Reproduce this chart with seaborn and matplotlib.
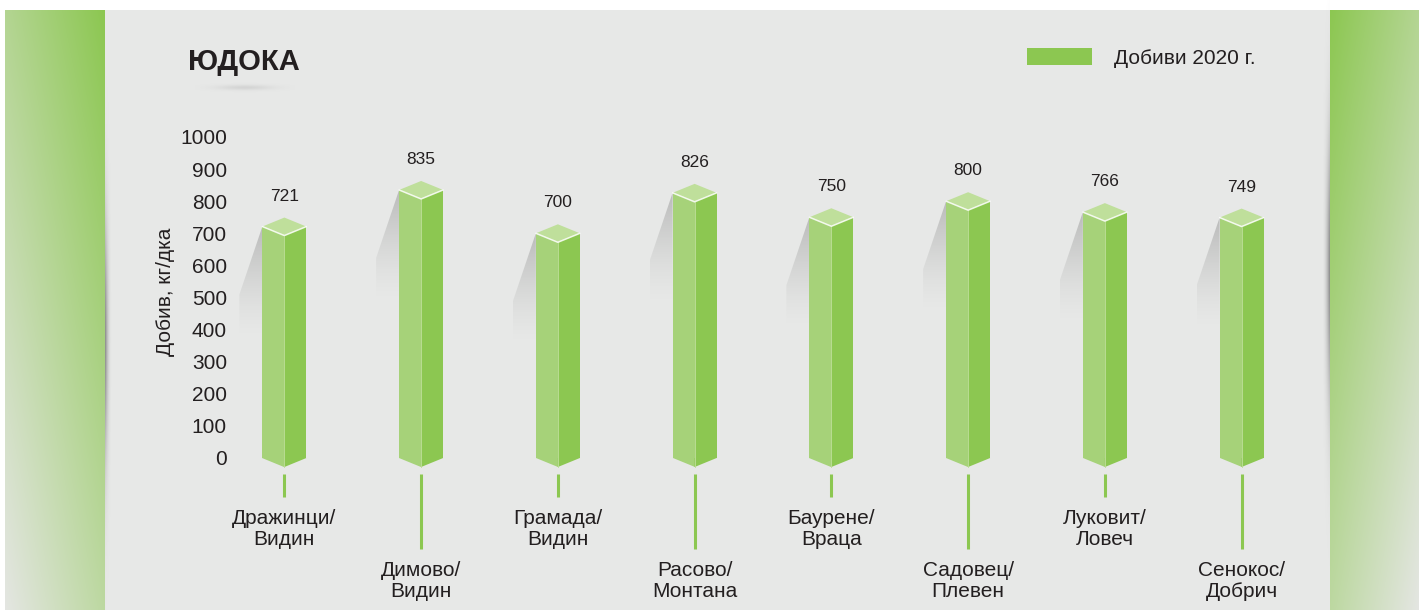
import numpy as np
import pandas as pd
import matplotlib
matplotlib.use("Agg")
import matplotlib.pyplot as plt
import seaborn as sns
from matplotlib.patches import Polygon, Rectangle
from matplotlib.colors import to_rgb

# ---- data ----
places = ["Дражинци/\nВидин", "Димово/\nВидин", "Грамада/\nВидин", "Расово/\nМонтана",
          "Баурене/\nВраца", "Садовец/\nПлевен", "Луковит/\nЛовеч", "Сенокос/\nДобрич"]
yields = [721, 835, 700, 826, 750, 800, 766, 749]
y_ticks = [0, 100, 200, 300, 400, 500, 600, 700, 800, 900, 1000]
series_name = "Добиви 2020 г."
chart_title = "ЮДОКА"
y_title = "Добив, кг/дка"

# colours
green_dark = "#8cc751"
green_light = "#a6d279"
green_top = "#bfdf9b"
bg_gray = "#e7e8e7"
text_col = "#231f20"

W, H = 1419, 610
sns.set_style("white")
plt.rcParams["font.family"] = ["Liberation Sans", "DejaVu Sans"]

fig = plt.figure(figsize=(W / 100, H / 100), dpi=100)
fig.patch.set_facecolor("white")

# background layer in pixel coordinates
bg = fig.add_axes([0, 0, 1, 1], zorder=0)
bg.set_xlim(0, W)
bg.set_ylim(H, 0)
bg.axis("off")
bg.add_patch(Rectangle((105, 10), 1225, 600, color=bg_gray, lw=0))

g = np.array(to_rgb(green_dark))
fade = np.array([228, 230, 226]) / 255


def side_panel(x0, x1, inner_on_right):
    xs, ys = np.meshgrid(np.linspace(0, 1, 120), np.linspace(0, 1, 300))
    xr = xs if inner_on_right else 1 - xs
    m = np.clip(0.55 + 0.45 * xr - 0.55 * ys, 0, 1)[..., None]
    img = fade * (1 - m) + g * m
    bg.imshow(img, extent=(x0, x1, H, 10), origin="upper", aspect="auto",
              interpolation="bilinear", zorder=1)


def edge_shadow(x0, x1, dark_at_left, y_peak, sigma):
    xs, ys = np.meshgrid(np.linspace(0, 1, 20), np.linspace(0, H, 300))
    bx = (1 - xs) if dark_at_left else xs
    a = 0.8 * np.exp(-((ys - y_peak) / sigma) ** 2) * bx ** 2
    img = np.zeros(a.shape + (4,))
    img[..., :3] = 0.45
    img[..., 3] = a
    bg.imshow(img, extent=(x0, x1, H, 0), origin="upper", aspect="auto",
              interpolation="bilinear", zorder=2)


side_panel(5, 105, True)
side_panel(1330, W, False)
edge_shadow(105, 112, True, 340, 120)
edge_shadow(1322, 1330, False, 270, 130)

# soft shadow under the title
xs, ys = np.meshgrid(np.linspace(-1, 1, 100), np.linspace(-1, 1, 20))
u = np.zeros(xs.shape + (4,))
u[..., :3] = 0.6
u[..., 3] = 0.25 * np.exp(-(xs / 0.55) ** 2 - (ys / 0.4) ** 2)
bg.imshow(u, extent=(195, 295, 94, 81), origin="upper", aspect="auto", zorder=2)

# ---- main chart ----
ax = fig.add_axes([235 / W, (H - 475) / H, 1075 / W, 345 / H], zorder=1)
ax.patch.set_alpha(0)
df = pd.DataFrame({"place": places, "yield": yields})
sns.barplot(data=df, x="place", y="yield", color=green_dark, saturation=1,
            width=0.322, ax=ax, zorder=3, linewidth=0)

x_lo, x_hi = -0.361, 7.5
y_lo, y_hi = -52.96, 1021.8
px_x = 136.75   # px per category
px_y = 0.321    # px per unit
d = 9 / px_y    # half height of the top diamond

bars = list(ax.patches)
for i, p in enumerate(bars):
    x0, w, h = p.get_x(), p.get_width(), p.get_height()
    xc, x1 = x0 + w / 2, x0 + w

    # shadow falling to the left of the bar
    dx = 23 / px_x
    poly = Polygon([(x0, h), (x0 - dx, h - 212), (x0 - dx, h - 343), (x0, h - 343)],
                   closed=True, transform=ax.transData, fc="none", ec="none")
    grad = np.zeros((100, 2, 4))
    grad[..., :3] = 0.5
    grad[..., 3] = (np.linspace(0.55, 0, 100) ** 1.4)[:, None]
    im = ax.imshow(grad, extent=(x0 - dx, x0, h - 343, h), origin="upper",
                   aspect="auto", interpolation="bilinear", zorder=2)
    im.set_clip_path(poly)

    # lighter left face and the pointed bottom
    ax.add_patch(Rectangle((x0, 0), w / 2, h, color=green_light, lw=0, zorder=3.1))
    ax.add_patch(Polygon([(x0, 0), (xc, 0), (xc, -d)], color=green_light, lw=0, zorder=3.1))
    ax.add_patch(Polygon([(xc, 0), (x1, 0), (xc, -d)], color=green_dark, lw=0, zorder=3.1))
    ax.plot([xc, xc], [-d, h - d], color="#b9dc93", lw=0.7, zorder=3.2)

    # top diamond
    ax.add_patch(Polygon([(x0, h), (xc, h + d), (x1, h), (xc, h - d)],
                         color=green_top, lw=0, zorder=3.3))
    ax.plot([x0, xc, x1], [h, h - d, h], color="white", lw=1.1, alpha=0.85, zorder=3.4)

    ax.text(xc, h + d + 53, str(yields[i]), ha="center", va="baseline",
            fontsize=12.5, color=text_col)

    # green mark and label under each bar, alternating length
    long = i % 2 == 1
    ax.vlines(xc, -49.8, -283.5 if long else -121.5, color=green_dark, lw=2.2, clip_on=False)
    ax.text(xc, -320.9 if long else -158.9, places[i], ha="center", va="top",
            fontsize=15, color=text_col, linespacing=1.12, clip_on=False)

ax.set_xlim(x_lo, x_hi)
ax.set_ylim(y_lo, y_hi)
ax.set_xticks([])
ax.set_xlabel("")
ax.set_yticks(y_ticks)
ax.tick_params(axis="y", length=0, pad=5.8, labelsize=15, labelcolor=text_col)
ax.set_ylabel(y_title, fontsize=15, color=text_col)
ax.yaxis.set_label_coords(-0.0558, 0.530)
sns.despine(ax=ax, left=True, bottom=True)

# title and legend
fig.text(188 / W, 1 - 70 / H, chart_title, fontsize=21, fontweight="bold",
         color=text_col, ha="left", va="baseline")
fig.legend(handles=[Rectangle((0, 0), 1, 1, color=green_dark, lw=0)], labels=[series_name],
           loc="center left", bbox_to_anchor=(1027 / W, 1 - 58 / H), frameon=False,
           fontsize=15, handlelength=3.1, handleheight=0.91, handletextpad=1.06,
           borderpad=0, borderaxespad=0, labelcolor=text_col)

fig.savefig("out.png", dpi=100)
